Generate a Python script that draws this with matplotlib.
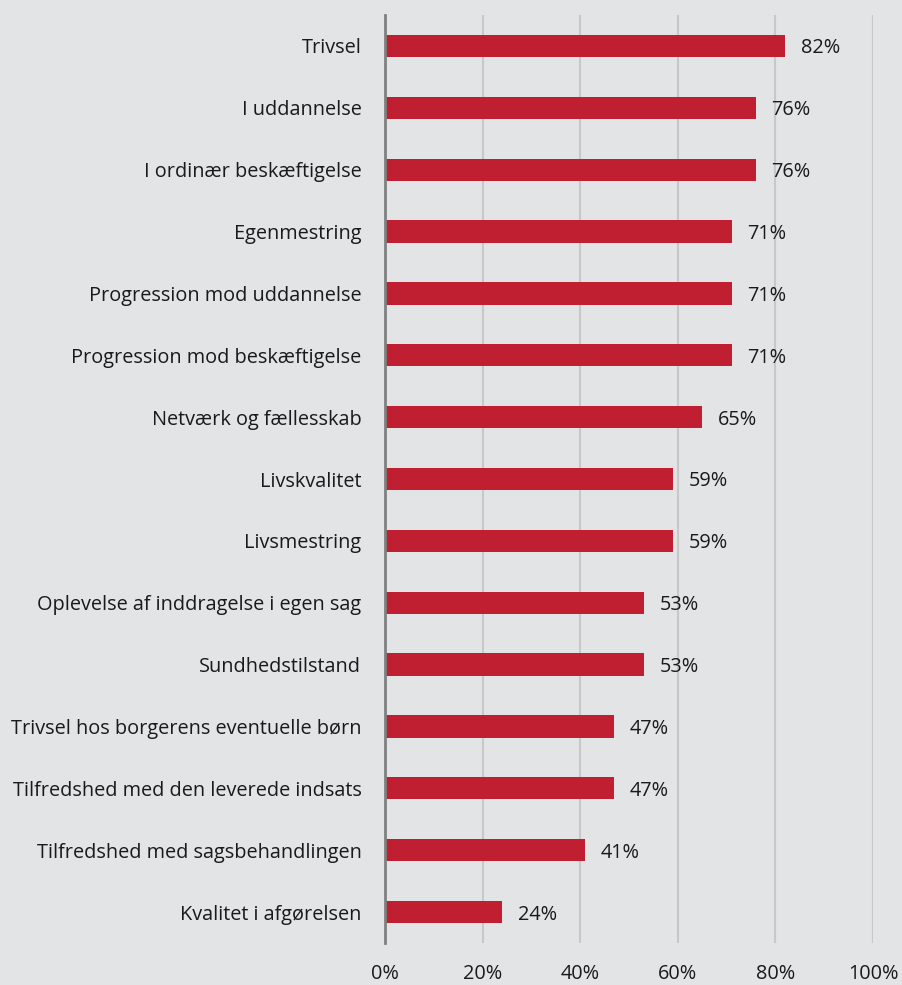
import matplotlib
matplotlib.use('Agg')
import matplotlib.pyplot as plt

# data, top to bottom
categories = [
    'Trivsel',
    'I uddannelse',
    'I ordinær beskæftigelse',
    'Egenmestring',
    'Progression mod uddannelse',
    'Progression mod beskæftigelse',
    'Netværk og fællesskab',
    'Livskvalitet',
    'Livsmestring',
    'Oplevelse af inddragelse i egen sag',
    'Sundhedstilstand',
    'Trivsel hos borgerens eventuelle børn',
    'Tilfredshed med den leverede indsats',
    'Tilfredshed med sagsbehandlingen',
    'Kvalitet i afgørelsen',
]
values = [82, 76, 76, 71, 71, 71, 65, 59, 59, 53, 53, 47, 47, 41, 24]
xticks = [0, 20, 40, 60, 80, 100]

bg = '#E3E4E6'
red = '#C01F32'
fs = 14.3

plt.rcParams['font.family'] = ['Open Sans', 'DejaVu Sans']

fig = plt.figure(figsize=(9.03, 9.85), dpi=100, facecolor=bg)
ax = fig.add_axes([0.4264, 0.0426, 0.5404, 0.9422], facecolor=bg)

pos = list(range(len(categories)))
ax.barh(pos, values, height=0.36, color=red, zorder=3)

for p, v in zip(pos, values):
    ax.text(v + 3.2, p + 0.04, f'{v}%', va='center', ha='left', fontsize=fs, color='#1a1a1a', zorder=4)

ax.set_ylim(len(categories) - 0.5, -0.5)
ax.set_xlim(0, 100)
ax.set_yticks(pos)
ax.set_yticklabels(categories, fontsize=fs, color='#1a1a1a')
ax.set_xticks(xticks)
ax.set_xticklabels([f'{t}%' for t in xticks], fontsize=fs, color='#1a1a1a')
ax.tick_params(axis='y', length=0, pad=17)
ax.tick_params(axis='x', length=0, pad=15)

ax.grid(axis='x', color='#C8C8C8', linewidth=1.5, zorder=0)
ax.grid(axis='y', visible=False)
for s in ['top', 'right', 'bottom']:
    ax.spines[s].set_visible(False)
ax.spines['left'].set_color('#808080')
ax.spines['left'].set_linewidth(2)
ax.spines['left'].set_zorder(5)

fig.savefig('out.png', dpi=100, facecolor=bg)
